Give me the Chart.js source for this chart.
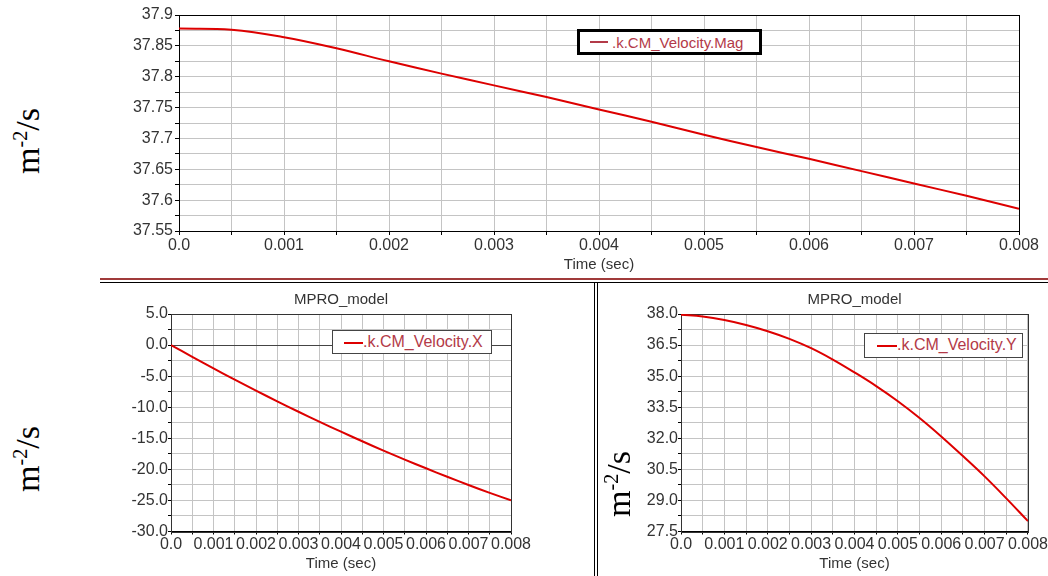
<!DOCTYPE html>
<html lang="en">
<head>
<meta charset="UTF-8" />
<title>CM Velocity</title>
<script src="https://cdn.jsdelivr.net/npm/chart.js"></script>
<style>
  body { margin: 0; width: 1048px; height: 576px; position: relative; overflow: hidden; background: #fff; font-family: "Liberation Sans", Arial, sans-serif; }
  canvas { position: absolute; }
  .unit { position: absolute; font-family: "Liberation Serif", "Times New Roman", serif; font-size: 34px; line-height: 34px; color: #000; white-space: nowrap; transform: translate(-50%, -50%) rotate(-90deg); }
  .unit sup { font-size: 20px; line-height: 0; }
  .legend { position: absolute; box-sizing: border-box; background: #fff; color: #b33a48; white-space: nowrap; }
  .legend i { position: absolute; height: 2px; }
  .legend span { position: absolute; }
  .line { position: absolute; }
</style>
</head>
<body>
  <canvas id="magChart" width="948" height="278" style="left:100px;top:0"></canvas>
  <canvas id="xChart" width="494" height="292" style="left:100px;top:284px"></canvas>
  <canvas id="yChart" width="451" height="292" style="left:597px;top:284px"></canvas>

  <!-- panel separators -->
  <div class="line" style="left:100px;top:278px;width:948px;height:2px;background:#a03a3a"></div>
  <div class="line" style="left:100px;top:282px;width:948px;height:1px;background:#000"></div>
  <div class="line" style="left:594px;top:282px;width:1px;height:294px;background:#000"></div>
  <div class="line" style="left:597px;top:282px;width:1px;height:294px;background:#000"></div>

  <!-- unit labels -->
  <div class="unit" style="left:28px;top:141px">m<sup>-2</sup>/s</div>
  <div class="unit" style="left:28px;top:459px">m<sup>-2</sup>/s</div>
  <div class="unit" style="left:619px;top:484px">m<sup>-2</sup>/s</div>

  <!-- legends -->
  <div class="legend" id="magLegend" style="left:577px;top:29px;width:185px;height:26px;border:3px solid #000;font-size:15px">
    <i style="left:10px;top:9px;width:18px;background:#b33a48"></i><span style="left:32px;top:2px"></span>
  </div>
  <div class="legend" id="xLegend" style="left:332px;top:330px;width:160px;height:24px;border:1px solid #444;font-size:16px">
    <i style="left:11px;top:11px;width:19px;background:#dd0000"></i><span style="left:30px;top:2px"></span>
  </div>
  <div class="legend" id="yLegend" style="left:864px;top:333px;width:159px;height:25px;border:1px solid #444;font-size:16px">
    <i style="left:12px;top:11px;width:20px;background:#dd0000"></i><span style="left:32px;top:2px"></span>
  </div>

<script>
  // time samples (sec)
  const timeSec = [0, 0.0005, 0.001, 0.0015, 0.002, 0.0025, 0.003, 0.0035, 0.004,
                   0.0045, 0.005, 0.0055, 0.006, 0.0065, 0.007, 0.0075, 0.008];
  // .k.CM_Velocity.Mag
  const velMag = [37.878, 37.876, 37.864, 37.846, 37.825, 37.805, 37.786, 37.767, 37.747,
                  37.727, 37.706, 37.686, 37.667, 37.647, 37.627, 37.607, 37.586];
  // .k.CM_Velocity.X
  const velX = [0, -1.9, -3.76, -5.57, -7.33, -9.05, -10.73, -12.36, -13.94,
                -15.48, -16.98, -18.43, -19.83, -21.19, -22.51, -23.78, -25.0];
  // .k.CM_Velocity.Y
  const velY = [37.97, 37.88, 37.71, 37.47, 37.17, 36.80, 36.35, 35.80, 35.18,
                34.52, 33.79, 32.98, 32.09, 31.14, 30.16, 29.10, 28.00];

  const timeLabels = ['0.0', '0.001', '0.002', '0.003', '0.004', '0.005', '0.006', '0.007', '0.008'];
  const magLabels = ['37.55', '37.6', '37.65', '37.7', '37.75', '37.8', '37.85', '37.9'];
  const xLabels = ['-30.0', '-25.0', '-20.0', '-15.0', '-10.0', '-5.0', '0.0', '5.0'];
  const yLabels = ['27.5', '29.0', '30.5', '32.0', '33.5', '35.0', '36.5', '38.0'];

  const FONT = '"Liberation Sans", Arial, sans-serif';
  const GRID = '#c4c4c4';

  // box around the plot area
  const frame = {
    id: 'frame',
    beforeDatasetsDraw(chart, args, opts) {
      const { ctx, chartArea: a } = chart;
      ctx.save();
      ctx.strokeStyle = opts.color || '#000';
      ctx.lineWidth = 1;
      ctx.strokeRect(Math.round(a.left) + 0.5, Math.round(a.top) + 0.5, Math.round(a.width), Math.round(a.height));
      ctx.restore();
    }
  };

  function timeAxis(fitHeight, tickLen, pad, titlePad) {
    return {
      type: 'linear', min: 0, max: 0.008,
      ticks: {
        stepSize: 0.0005, autoSkip: false, maxRotation: 0, minRotation: 0,
        padding: pad, color: '#333', font: { family: FONT, size: 16 },
        callback: (v, i) => i % 2 ? '' : timeLabels[i / 2]
      },
      grid: { color: GRID, tickColor: '#000', tickLength: tickLen },
      border: { color: '#000' },
      title: { display: true, text: 'Time (sec)', color: '#333', font: { family: FONT, size: 15 }, padding: { top: 0, bottom: titlePad } },
      afterFit: s => { s.height = fitHeight; }
    };
  }

  function valueAxis(min, max, step, labels, fitWidth, tickLen, pad, gridColor) {
    return {
      min: min, max: max,
      ticks: {
        stepSize: step, autoSkip: false, padding: pad, color: '#333', font: { family: FONT, size: 16 },
        callback: (v, i) => i % 2 ? '' : labels[i / 2]
      },
      grid: { color: gridColor || GRID, tickColor: '#000', tickLength: tickLen },
      border: { color: '#000' },
      afterFit: s => { s.width = fitWidth; }
    };
  }

  function series(label, values) {
    return {
      label: label,
      data: timeSec.map((t, i) => ({ x: t, y: values[i] })),
      borderColor: '#dd0000', borderWidth: 2, pointRadius: 0,
      tension: 0.4, fill: false
    };
  }

  function makeChart(id, dataset, xAxis, yAxis, padding, title, frameColor) {
    return new Chart(document.getElementById(id), {
      type: 'line',
      data: { datasets: [dataset] },
      options: {
        responsive: false, animation: false, devicePixelRatio: 1,
        layout: { padding: padding },
        scales: { x: xAxis, y: yAxis },
        plugins: {
          legend: { display: false },
          tooltip: { enabled: false },
          title: title,
          frame: { color: frameColor }
        }
      },
      plugins: [frame]
    });
  }

  const subTitle = {
    display: true, text: 'MPRO_model', fullSize: false, color: '#333',
    font: { family: FONT, size: 15, weight: 'normal' }, padding: { top: 7, bottom: 5 }
  };

  const magChart = makeChart('magChart', series('.k.CM_Velocity.Mag', velMag),
    timeAxis(47, 4, 1, 4),
    valueAxis(37.55, 37.9, 0.025, magLabels, 79, 4, 2),
    { left: 0, top: 15, right: 29, bottom: 0 }, { display: false }, '#000');

  const xChart = makeChart('xChart', series('.k.CM_Velocity.X', velX),
    timeAxis(44.5, 3, 0, 3),
    valueAxis(-30, 5, 2.5, xLabels, 71, 3, 0, c => c.tick && c.tick.value === 0 ? '#444' : GRID),
    { left: 0, top: 0, right: 83, bottom: 0 }, subTitle, '#333');

  const yChart = makeChart('yChart', series('.k.CM_Velocity.Y', velY),
    timeAxis(44.5, 3, 0, 3),
    valueAxis(27.5, 38, 0.75, yLabels, 84, 3, 0),
    { left: 0, top: 0, right: 19, bottom: 0 }, subTitle, '#333');

  // legend text comes from the dataset labels
  [['magLegend', magChart], ['xLegend', xChart], ['yLegend', yChart]].forEach(([id, chart]) => {
    document.querySelector('#' + id + ' span').textContent = chart.data.datasets[0].label;
  });
</script>
</body>
</html>
